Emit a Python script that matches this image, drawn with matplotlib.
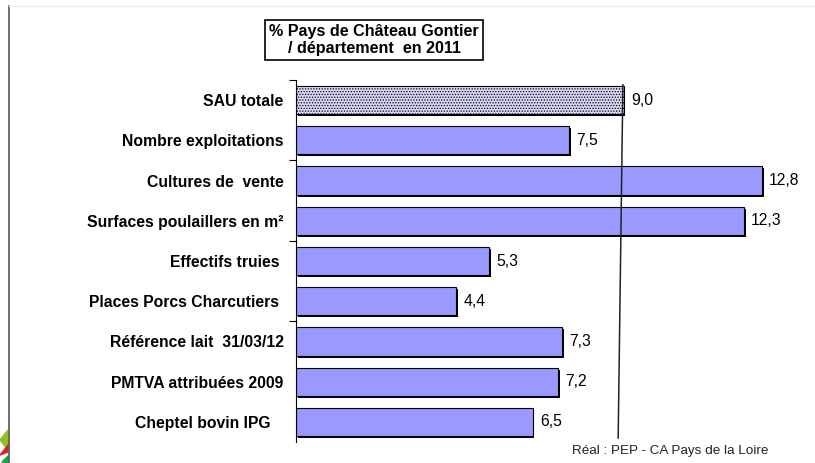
import matplotlib.pyplot as plt
from matplotlib.patches import Rectangle, Polygon
from matplotlib.lines import Line2D

# data
categories = ["SAU totale", "Nombre exploitations", "Cultures de  vente",
              "Surfaces poulaillers en m²", "Effectifs truies ",
              "Places Porcs Charcutiers ", "Référence lait  31/03/12",
              "PMTVA attribuées 2009", "Cheptel bovin IPG   "]
values = [9.0, 7.5, 12.8, 12.3, 5.3, 4.4, 7.3, 7.2, 6.5]
title = "% Pays de Château Gontier\n/ département  en 2011"
source = "Réal : PEP - CA Pays de la Loire"

plt.rcParams['font.family'] = ['Liberation Sans', 'DejaVu Sans']
plt.rcParams['hatch.color'] = '#8a8ad0'
plt.rcParams['hatch.linewidth'] = 0.6

W, H = 815, 463
fig = plt.figure(figsize=(W / 100, H / 100), dpi=100)

# axes placed in pixel terms
left, right, top, bottom = 296, 802, 80, 442
ax = fig.add_axes([left / W, 1 - bottom / H, (right - left) / W, (bottom - top) / H])

pos = list(range(len(categories)))
bar_h = 0.7
# shadow under the bars
for i, v in enumerate(values):
    ax.add_patch(Rectangle((0.05, i - bar_h / 2 + 0.05), v, bar_h,
                           facecolor='black', edgecolor='none', zorder=1))
for i, v in enumerate(values):
    if i == 0:
        ax.barh(i, v, height=bar_h, color='#d8d8f6', edgecolor='black',
                linewidth=0.8, hatch='......', zorder=2)
    else:
        ax.barh(i, v, height=bar_h, color='#9999ff', edgecolor='black',
                linewidth=0.8, zorder=2)
    ax.text(v + 0.2, i, f"{v:.1f}".replace('.', ','), va='center', ha='left',
            fontsize=11.3)

ax.set_xlim(0, 13.9)
ax.set_ylim(len(categories) - 0.5, -0.5)
ax.set_yticks(pos)
ax.set_yticklabels(categories, fontsize=11.3, fontweight='bold')
ax.tick_params(axis='y', length=0, pad=9)
ax.set_yticks([-0.5, 1.5, 3.5, 5.5], minor=True)
ax.tick_params(axis='y', which='minor', length=5, width=0.8, direction='out')
ax.set_xticks([])
for s in ['top', 'right', 'bottom']:
    ax.spines[s].set_visible(False)
ax.spines['left'].set_linewidth(0.8)

# reference line at SAU value
ax.plot([values[0] - 0.02, values[0] - 0.15], [-0.38, 8.4], color='#222222',
        linewidth=1.1, clip_on=False, zorder=3)

fig.text(374 / W, 1 - 40 / H, title, ha='center', va='center', fontsize=11.6,
         fontweight='bold', linespacing=1.15,
         bbox=dict(boxstyle='square,pad=0.25', facecolor='white',
                   edgecolor='black', linewidth=1.2))
fig.text(670 / W, 1 - 451 / H, source, ha='center', va='center', fontsize=9.7,
         color='#222222')

# slide frame and logo bits
fig.add_artist(Line2D([9 / W, 9 / W], [0, 1 - 6 / H], color='#555555', linewidth=1.2))
fig.add_artist(Line2D([9 / W, 1], [1 - 6 / H, 1 - 6 / H], color='#eeeeee', linewidth=1))
fig.add_artist(Polygon([(0, 1 - 440 / H), (8 / W, 1 - 430 / H), (8 / W, 1 - 450 / H)],
                       closed=True, color='#90c020', transform=fig.transFigure))
fig.add_artist(Polygon([(0, 1 - 455 / H), (8 / W, 1 - 445 / H), (8 / W, 1 - 452 / H)],
                       closed=True, color='#e02020', transform=fig.transFigure))
fig.add_artist(Polygon([(2 / W, 1 - 462 / H), (8 / W, 1 - 456 / H), (8 / W, 1 - 463 / H)],
                       closed=True, color='#20a040', transform=fig.transFigure))

fig.savefig("out.png", dpi=100)
